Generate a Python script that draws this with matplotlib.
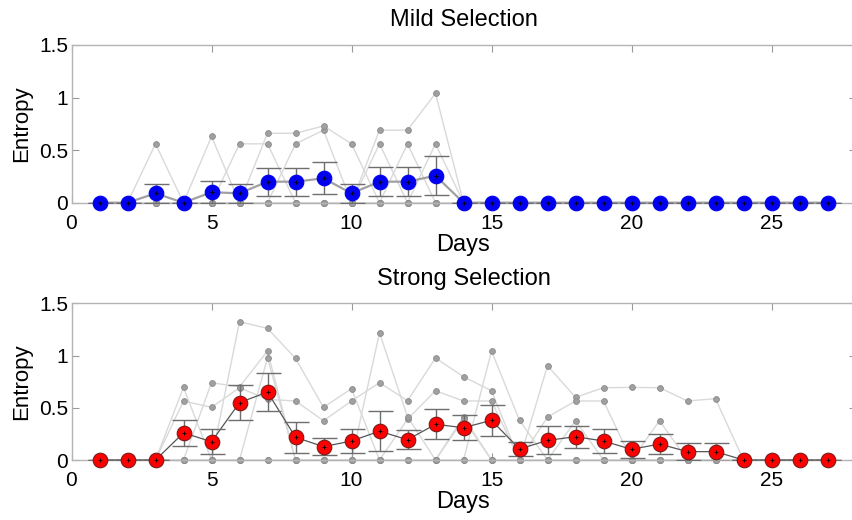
import numpy as np
import matplotlib
matplotlib.use("Agg")
import matplotlib.pyplot as plt

plt.rcParams['font.family'] = ['Liberation Sans', 'DejaVu Sans']

days = np.arange(1, 28)

# ---- Mild selection: individual replicate entropies ----
mild_reps = [
    [0, 0, .56, 0, 0, 0, 0, .56, .69, 0, 0, 0, .56, 0, 0, 0, 0, 0, 0, 0, 0, 0, 0, 0, 0, 0, 0],
    [0, 0, 0, 0, .63, 0, 0, 0, 0, 0, .56, 0, 0, 0, 0, 0, 0, 0, 0, 0, 0, 0, 0, 0, 0, 0, 0],
    [0, 0, 0, 0, 0, .56, .56, 0, 0, 0, 0, .56, 0, 0, 0, 0, 0, 0, 0, 0, 0, 0, 0, 0, 0, 0, 0],
    [0, 0, 0, 0, 0, 0, .66, .66, .73, .56, 0, 0, 0, 0, 0, 0, 0, 0, 0, 0, 0, 0, 0, 0, 0, 0, 0],
    [0, 0, 0, 0, 0, 0, 0, 0, 0, 0, .69, .69, 1.04, 0, 0, 0, 0, 0, 0, 0, 0, 0, 0, 0, 0, 0, 0],
    [0] * 27,
]
mild_mean = [0, 0, .089, 0, .10, .089, .20, .20, .232, .089, .20, .20, .257,
             0, 0, 0, 0, 0, 0, 0, 0, 0, 0, 0, 0, 0, 0]
mild_err = [0, 0, .093, 0, .105, .093, .132, .132, .152, .093, .14, .14, .187,
            0, 0, 0, 0, 0, 0, 0, 0, 0, 0, 0, 0, 0, 0]

# ---- Strong selection: individual replicate entropies ----
strong_reps = [
    [0, 0, 0, .695, 0, 1.324, 1.26, .973, .504, .683, 0, .39, .663, .565, .565, 0, .903, .60, .692, .695, .692, .565, .587, 0, 0, 0, 0],
    [0, 0, 0, .565, .504, .692, .58, .565, .376, .565, .74, .568, .976, .797, .663, 0, .411, .565, .565, 0, .376, 0, 0, 0, 0, 0, 0],
    [0, 0, 0, 0, .74, .70, 1.043, 0, 0, 0, 1.218, .414, 0, 0, 1.043, .38, 0, .376, 0, 0, 0, 0, 0, 0, 0, 0, 0],
    [0, 0, 0, 0, 0, 0, .979, 0, 0, 0, 0, 0, 0, .414, 0, 0, 0, 0, 0, 0, 0, 0, 0, 0, 0, 0, 0],
    [0, 0, 0, 0, 0, 0, 0, 0, 0, 0, 0, 0, 0, .39, 0, 0, 0, 0, 0, 0, 0, 0, 0, 0, 0, 0, 0],
    [0] * 27,
]
strong_mean = [0, 0, 0, .26, .175, .549, .651, .217, .128, .182, .276, .194, .342, .309,
               .38, .105, .188, .223, .182, .102, .153, .08, .08, 0, 0, 0, 0]
strong_err = [0, 0, 0, .125, .12, .168, .184, .15, .078, .115, .19, .093, .144, .117,
              .15, .067, .133, .107, .115, .083, .10, .079, .085, 0, 0, 0, 0]

W, H = 852, 520
fig = plt.figure(figsize=(W / 100, H / 100), dpi=100)
fig.patch.set_facecolor('white')

x0, x1 = 71.5, 855.5
ax_top = fig.add_axes([x0 / W, 1 - 202.7 / H, (x1 - x0) / W, (202.7 - 45) / H])
ax_bot = fig.add_axes([x0 / W, 1 - 460 / H, (x1 - x0) / W, (460 - 303.3) / H])

FS_TICK = 15
FS_LABEL = 17
spine_col = '#b4b4b4'


def draw_panel(ax, reps, mean, err, face, edge, mean_line_col, mean_lw, title):
    for r in reps:
        ax.plot(days, r, '-', color='#d9d9d9', lw=1.0, zorder=1, clip_on=False)
        ax.plot(days, r, 'o', ms=4.2, mfc='#a0a0a0', mec='#8a8a8a', mew=0.6,
                ls='none', zorder=2, clip_on=False)
    ax.plot(days, mean, '-', color=mean_line_col, lw=mean_lw, zorder=3, clip_on=False)
    ax.errorbar(days, mean, yerr=err, fmt='none', ecolor='#6e6e6e', elinewidth=1.0,
                capsize=9, capthick=1.0, zorder=4)
    ax.plot(days, mean, 'o', ms=10.5, mfc=face, mec=edge, mew=0.8, ls='none',
            zorder=5, clip_on=False)
    ax.plot(days, mean, '+', ms=2.5, color='black', mew=0.6, ls='none',
            zorder=6, clip_on=False)

    ax.set_xlim(0, 28)
    ax.set_ylim(0, 1.5)
    ax.set_xticks([0, 5, 10, 15, 20, 25])
    ax.set_yticks([0, 0.5, 1, 1.5])
    ax.set_yticklabels(['0', '0.5', '1', '1.5'])
    ax.tick_params(direction='in', length=5, width=0.8, color='#999999',
                   labelsize=FS_TICK, top=True, right=True)
    ax.tick_params(axis='x', pad=8)
    ax.tick_params(axis='y', pad=2.5)
    for s in ax.spines.values():
        s.set_color(spine_col)
        s.set_linewidth(1.0)
    ax.set_xlabel('Days', fontsize=FS_LABEL, labelpad=0.5)
    ax.set_ylabel('Entropy', fontsize=16, labelpad=5)
    ax.set_title(title, fontsize=FS_LABEL, pad=13.5)


draw_panel(ax_top, mild_reps, mild_mean, mild_err, '#0000ee', '#0000ee',
           '#a0a0a0', 1.6, 'Mild Selection')
draw_panel(ax_bot, strong_reps, strong_mean, strong_err, '#ff0000', '#7a1a1a',
           '#555555', 0.9, 'Strong Selection')

fig.savefig('out.png', dpi=100, facecolor='white')
